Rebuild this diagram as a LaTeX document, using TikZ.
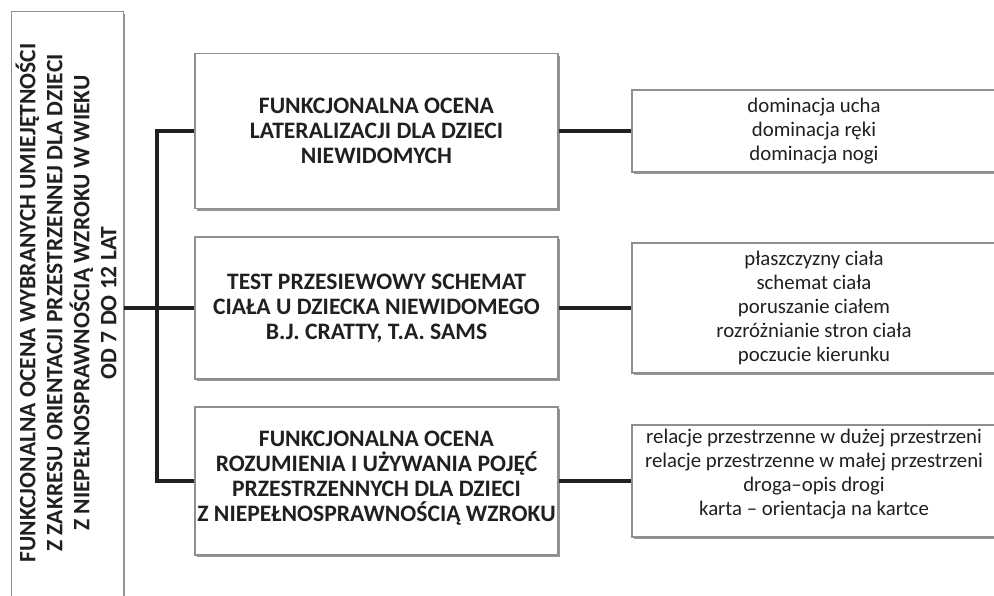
\documentclass[tikz,border=0pt]{standalone}
\usepackage{fontspec}
\setmainfont{Carlito}
\usetikzlibrary{shadows}
\definecolor{ink}{HTML}{231F20}
\definecolor{frame}{HTML}{8F8F8F}
\begin{document}
\begin{tikzpicture}[x=1pt,y=-1pt,
  box/.style={draw=frame, line width=1.1pt, fill=white, inner sep=0pt, text=ink,
    drop shadow={shadow xshift=1.5pt, shadow yshift=-2pt, fill=black!75, opacity=0.55}},
  method/.style={box, minimum width=363pt, align=center,
    font=\fontsize{23.6}{25}\selectfont\bfseries},
  skill/.style={box, minimum width=364pt, align=center,
    font=\fontsize{20.8}{24}\selectfont},
  link/.style={draw=ink, line width=3.5pt, line join=miter}
]
\useasboundingbox (0,0) rectangle (994,595);
\begin{scope}
\clip (0,0) rectangle (994,595);

% main box on the left, running off the page
\node[box, minimum width=112pt, minimum height=600pt, anchor=north west] (root) at (11,11) {};
\node[rotate=90, align=center, text=ink,
      font=\fontsize{23.5}{27}\selectfont\bfseries] (roottext) at (66,303)
  {FUNKCJONALNA OCENA WYBRANYCH UMIEJĘTNOŚCI\\
   Z ZAKRESU ORIENTACJI PRZESTRZENNEJ DLA DZIECI\\
   Z NIEPEŁNOSPRAWNOŚCIĄ WZROKU W WIEKU\\
   OD 7 DO 12 LAT};

% assessment methods
\node[method, minimum height=155pt] (m1) at (376.5,131)
  {FUNKCJONALNA OCENA\\LATERALIZACJI DLA DZIECI\\NIEWIDOMYCH};
\node[method, minimum height=142pt] (m2) at (376.5,308)
  {TEST PRZESIEWOWY SCHEMAT\\CIAŁA U DZIECKA NIEWIDOMEGO\\B.J. CRATTY, T.A. SAMS};
\node[method, minimum height=148pt, text depth=9pt] (m3) at (376.5,481)
  {FUNKCJONALNA OCENA\\ROZUMIENIA I UŻYWANIA POJĘĆ\\PRZESTRZENNYCH DLA DZIECI\\Z NIEPEŁNOSPRAWNOŚCIĄ WZROKU};

% assessed skills
\node[skill, minimum height=82pt] (r1) at (814,131)
  {dominacja ucha\\dominacja ręki\\dominacja nogi};
\node[skill, minimum height=130pt] (r2) at (814,308)
  {płaszczyzny ciała\\schemat ciała\\poruszanie ciałem\\rozróżnianie stron ciała\\poczucie kierunku};
\node[skill, minimum height=112pt, text depth=17pt] (r3) at (814,481)
  {relacje przestrzenne w dużej przestrzeni\\relacje przestrzenne w małej przestrzeni\\droga–opis drogi\\karta – orientacja na kartce};

% connectors
\coordinate (bus) at (157,308);
\draw[link] (root.east |- m2) -- (m2.west);
\draw[link] (m1.west) -| (bus |- m3) -- (m3.west);
\draw[link] (m1.east) -- (r1.west);
\draw[link] (m2.east) -- (r2.west);
\draw[link] (m3.east) -- (r3.west);
\end{scope}
\end{tikzpicture}
\end{document}
